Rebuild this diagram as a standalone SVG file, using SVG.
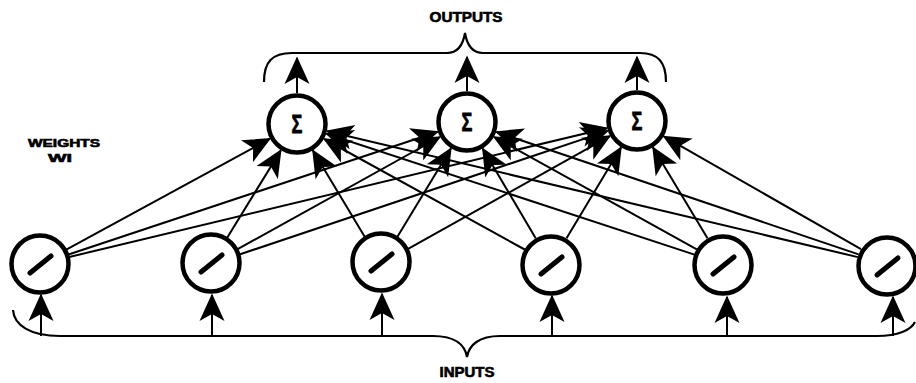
<svg xmlns="http://www.w3.org/2000/svg" width="916" height="383" viewBox="0 0 916 383">
  <style>
    .node { fill: #fff; stroke: #000; stroke-width: 4.5; }
    .slash { stroke: #000; stroke-width: 5; stroke-linecap: round; }
    .wire { stroke: #000; stroke-width: 2; fill: none; }
    .brace { stroke: #000; stroke-width: 2.2; fill: none; }
    .lbl { font-family: "Liberation Sans", Arial, sans-serif; font-weight: bold; fill: #000; stroke: #000; stroke-width: 0.6; text-anchor: middle; }
    .sig { font-family: "Liberation Sans", Arial, sans-serif; font-weight: bold; font-size: 25px; fill: #000; stroke: #000; stroke-width: 0.8; text-anchor: middle; }
  </style>
  <defs>
    <marker id="arrow" markerUnits="userSpaceOnUse" viewBox="-30 -15 33 30" markerWidth="33" markerHeight="30" refX="0" refY="0" orient="auto" overflow="visible">
      <path d="M1.5,0 L-26,-12.5 L-19,0 L-26,12.5 Z" fill="#000"/>
    </marker>
  </defs>
  <rect width="916" height="383" fill="#fff"/>

  <!-- braces -->
  <g id="braces">
    <path class="brace" d="M264,82 C264,62 272,53 292,53 L447,53 C458,53 463,45 465,33 C467,45 472,53 483,53 L640,53 C658,53 666,62 666,82"/>
    <path class="brace" d="M13,310 C14,325 30,336 60,336 L433,336 C455,336 465,345 467,357 C469,345 479,336 500,336 L877,336 C898,336 911,330 915,322"/>
  </g>

  <!-- labels -->
  <g id="labels">
    <text class="lbl" x="466" y="22" font-size="14" textLength="73" lengthAdjust="spacingAndGlyphs">OUTPUTS</text>
    <text class="lbl" x="467" y="377" font-size="14" textLength="55" lengthAdjust="spacingAndGlyphs">INPUTS</text>
    <text class="lbl" x="64" y="147" font-size="11" textLength="72" lengthAdjust="spacingAndGlyphs">WEIGHTS</text>
    <text class="lbl" x="60" y="162" font-size="11" textLength="24" lengthAdjust="spacingAndGlyphs">WI</text>
  </g>

  <!-- connectors -->
  <g id="connectors" class="wire" marker-end="url(#arrow)">
    <!-- weighted links into summing node 1 -->
    <line x1="66.3" y1="249.7" x2="269.8" y2="138.8"/>
    <line x1="226.7" y1="238.4" x2="280.8" y2="150.4"/>
    <line x1="365.6" y1="238.3" x2="312.9" y2="150.6"/>
    <line x1="524.7" y1="249.5" x2="324.2" y2="139.0"/>
    <line x1="694.5" y1="254.6" x2="326.5" y2="133.7"/>
    <line x1="857.8" y1="257.1" x2="327.2" y2="131.2"/>
    <!-- weighted links into summing node 2 -->
    <line x1="68.5" y1="254.5" x2="437.6" y2="131.8"/>
    <line x1="237.2" y1="249.4" x2="439.9" y2="137.0"/>
    <line x1="396.5" y1="238.3" x2="450.9" y2="148.5"/>
    <line x1="535.7" y1="238.2" x2="482.8" y2="148.7"/>
    <line x1="696.8" y1="249.4" x2="494.1" y2="137.0"/>
    <line x1="858.6" y1="254.4" x2="496.4" y2="131.9"/>
    <!-- weighted links into summing node 3 -->
    <line x1="69.2" y1="257.0" x2="606.9" y2="128.2"/>
    <line x1="239.4" y1="254.5" x2="607.6" y2="130.9"/>
    <line x1="407.2" y1="249.4" x2="609.9" y2="136.1"/>
    <line x1="566.5" y1="238.3" x2="621.0" y2="147.6"/>
    <line x1="707.5" y1="238.3" x2="653.0" y2="147.6"/>
    <line x1="861.0" y1="249.1" x2="663.9" y2="136.4"/>
    <!-- outputs -->
    <line x1="297" y1="93" x2="297" y2="58"/>
    <line x1="467" y1="91" x2="467" y2="57"/>
    <line x1="637" y1="90" x2="637" y2="57"/>
    <!-- inputs -->
    <line x1="41" y1="336" x2="41" y2="295"/>
    <line x1="212" y1="336" x2="212" y2="295"/>
    <line x1="382" y1="336" x2="382" y2="294"/>
    <line x1="552" y1="336" x2="552" y2="296"/>
    <line x1="727" y1="336" x2="727" y2="297"/>
    <line x1="893" y1="336" x2="893" y2="297"/>
  </g>

  <!-- summing nodes -->
  <g id="sum1"><circle class="node" cx="297" cy="124" r="28.5"/><text class="sig" transform="translate(297 133) scale(0.72 1)">Σ</text></g>
  <g id="sum2"><circle class="node" cx="467" cy="122" r="28.5"/><text class="sig" transform="translate(467 131) scale(0.72 1)">Σ</text></g>
  <g id="sum3"><circle class="node" cx="637" cy="121" r="28.5"/><text class="sig" transform="translate(637 130) scale(0.72 1)">Σ</text></g>

  <!-- input nodes -->
  <g id="in1"><circle class="node" cx="40" cy="264" r="28.5"/><line class="slash" x1="30" y1="273" x2="51" y2="256"/></g>
  <g id="in2"><circle class="node" cx="211" cy="263" r="28.5"/><line class="slash" x1="201" y1="272" x2="222" y2="255"/></g>
  <g id="in3"><circle class="node" cx="381" cy="262" r="28.5"/><line class="slash" x1="371" y1="271" x2="392" y2="254"/></g>
  <g id="in4"><circle class="node" cx="551" cy="265" r="28.5"/><line class="slash" x1="541" y1="274" x2="562" y2="257"/></g>
  <g id="in5"><circle class="node" cx="723" cy="265" r="28.5"/><line class="slash" x1="713" y1="274" x2="734" y2="257"/></g>
  <g id="in6"><circle class="node" cx="887" cy="266" r="28.5"/><line class="slash" x1="877" y1="275" x2="898" y2="258"/></g>
</svg>
